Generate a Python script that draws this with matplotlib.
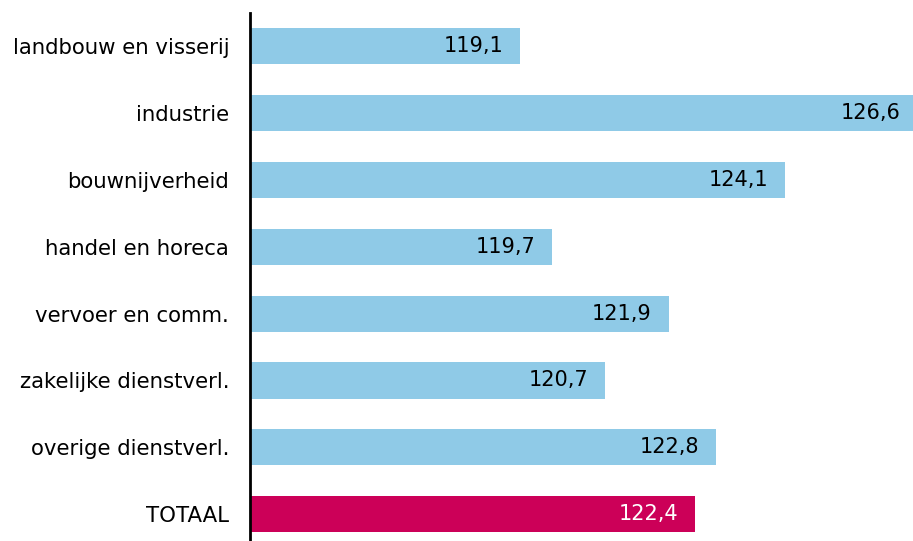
import numpy as np
import matplotlib
matplotlib.use("Agg")
import matplotlib.pyplot as plt

sectors = ["landbouw en visserij", "industrie", "bouwnijverheid", "handel en horeca",
           "vervoer en comm.", "zakelijke dienstverl.", "overige dienstverl.", "TOTAAL"]
values = [119.1, 126.6, 124.1, 119.7, 121.9, 120.7, 122.8, 122.4]

blue = "#8fcae7"
red = "#cc0058"
colors = [blue] * (len(values) - 1) + [red]
text_colors = ["black"] * (len(values) - 1) + ["white"]

fig = plt.figure(figsize=(9.13, 5.41), dpi=100)
ax = fig.add_axes([250 / 913, 0, 1 - 250 / 913, 528 / 541])

y = np.arange(len(values))
base = 114.0
ax.barh(y, np.array(values) - base, left=base, height=0.54, color=colors)
ax.set_xlim(base, 126.515)
ax.set_ylim(7.40, -0.494)

for yi, v, tc in zip(y, values, text_colors):
    ax.annotate(f"{v:.1f}".replace(".", ","), (v, yi), xytext=(-17, 0),
                textcoords="offset pixels", ha="right", va="center",
                color=tc, fontsize=15, annotation_clip=False)

ax.set_yticks(y)
ax.set_yticklabels(sectors, fontsize=15.3)
ax.tick_params(axis="y", length=0, pad=15)
ax.set_xticks([])
for s in ["top", "right", "bottom"]:
    ax.spines[s].set_visible(False)
ax.spines["left"].set_linewidth(2)

fig.savefig("out.png", dpi=100)
